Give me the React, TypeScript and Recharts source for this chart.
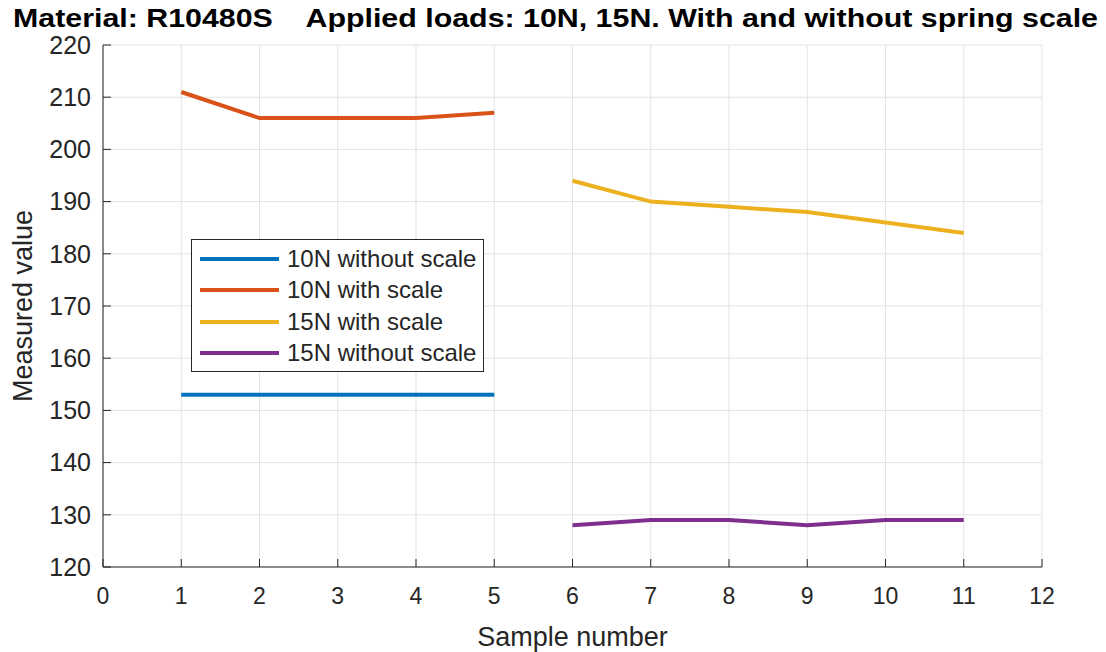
import React from 'react';
import { LineChart, Line, XAxis, YAxis, CartesianGrid } from 'recharts';

// valores
const sampleNumbers = [1, 2, 3, 4, 5, 6, 7, 8, 9, 10, 11];
const without10N = [153, 153, 153, 153, 153];
const with10N = [211, 206, 206, 206, 207];
const with15N = [194, 190, 189, 188, 186, 184];
const without15N = [128, 129, 129, 128, 129, 129];
const xTicks = [0, 1, 2, 3, 4, 5, 6, 7, 8, 9, 10, 11, 12];
const yTicks = [120, 130, 140, 150, 160, 170, 180, 190, 200, 210, 220];

const seriesInfo = [
  { key: 'w10', name: '10N without scale', color: '#0072BD' },
  { key: 'v10', name: '10N with scale', color: '#D95319' },
  { key: 'v15', name: '15N with scale', color: '#EDB120' },
  { key: 'w15', name: '15N without scale', color: '#7E2F8E' },
];

// tabla para recharts: las muestras 1-5 son de 10N, 6-11 de 15N
const data = sampleNumbers.map((n, i) => ({
  sample: n,
  w10: i < 5 ? without10N[i] : null,
  v10: i < 5 ? with10N[i] : null,
  v15: i >= 5 ? with15N[i - 5] : null,
  w15: i >= 5 ? without15N[i - 5] : null,
}));

const font = '"Liberation Sans", Arial, Helvetica, sans-serif';
const axisColor = '#262626';

// sin texto, solo la marquita del eje
const NoLabel = () => <g />;

// leyenda dibujada encima, como en matlab
const LegendBox = () => (
  <div
    style={{
      position: 'absolute',
      left: 191,
      top: 239,
      border: '1.5px solid ' + axisColor,
      background: '#fff',
      width: 293,
      height: 133,
      boxSizing: 'border-box',
      paddingTop: 3,
      fontFamily: font,
    }}
  >
    {seriesInfo.map((s) => (
      <div key={s.key} style={{ display: 'flex', alignItems: 'center', height: 31.5 }}>
        <div style={{ width: 79, height: 4, background: s.color, marginLeft: 8, marginRight: 8 }} />
        <span style={{ fontSize: 24, color: axisColor, whiteSpace: 'nowrap' }}>{s.name}</span>
      </div>
    ))}
  </div>
);

const App = () => {
  return (
    <div style={{ position: 'absolute', left: 0, top: 0, width: 1106, height: 652, background: '#fff' }}>
      <LineChart
        width={1106}
        height={652}
        data={data}
        margin={{ top: 45, right: 64, left: 0, bottom: 0 }}
        style={{ fontFamily: font }}
      >
        <CartesianGrid stroke="#e3e3e3" strokeWidth={1} />
        <XAxis
          dataKey="sample"
          type="number"
          domain={[0, 12]}
          ticks={xTicks}
          height={85}
          stroke={axisColor}
          tickSize={-8}
          tickMargin={29}
          tick={{ fill: axisColor, fontSize: 23 }}
          label={{ value: 'Sample number', position: 'center', dy: 27, fill: axisColor, fontSize: 27 }}
        />
        {/* ejes de arriba y derecha solo para la caja */}
        <XAxis
          xAxisId="top"
          orientation="top"
          dataKey="sample"
          type="number"
          domain={[0, 12]}
          ticks={xTicks}
          height={0}
          stroke={axisColor}
          tickSize={-8}
          tick={<NoLabel />}
        />
        <YAxis
          type="number"
          domain={[120, 220]}
          ticks={yTicks}
          width={103}
          stroke={axisColor}
          tickSize={-8}
          tickMargin={20}
          tick={{ fill: axisColor, fontSize: 25 }}
          label={{ value: 'Measured value', angle: -90, position: 'center', dx: -29, fill: axisColor, fontSize: 27 }}
        />
        <YAxis
          yAxisId="right"
          orientation="right"
          type="number"
          domain={[120, 220]}
          ticks={yTicks}
          width={0}
          stroke={axisColor}
          tickSize={-8}
          tick={<NoLabel />}
        />
        {seriesInfo.map((s) => (
          <Line
            key={s.key}
            dataKey={s.key}
            name={s.name}
            stroke={s.color}
            strokeWidth={4}
            dot={false}
            activeDot={false}
            connectNulls={false}
            isAnimationActive={false}
          />
        ))}
      </LineChart>
      <svg style={{ position: 'absolute', left: 0, top: 0 }} width={1106} height={36}>
        <text
          x={13}
          y={27}
          fontFamily={font}
          fontWeight="bold"
          fontSize={25}
          fill="#000"
          textLength={1085}
          lengthAdjust="spacingAndGlyphs"
          xmlSpace="preserve"
        >
          Material: R10480S    Applied loads: 10N, 15N. With and without spring scale
        </text>
      </svg>
      <LegendBox />
    </div>
  );
};

export default App;
